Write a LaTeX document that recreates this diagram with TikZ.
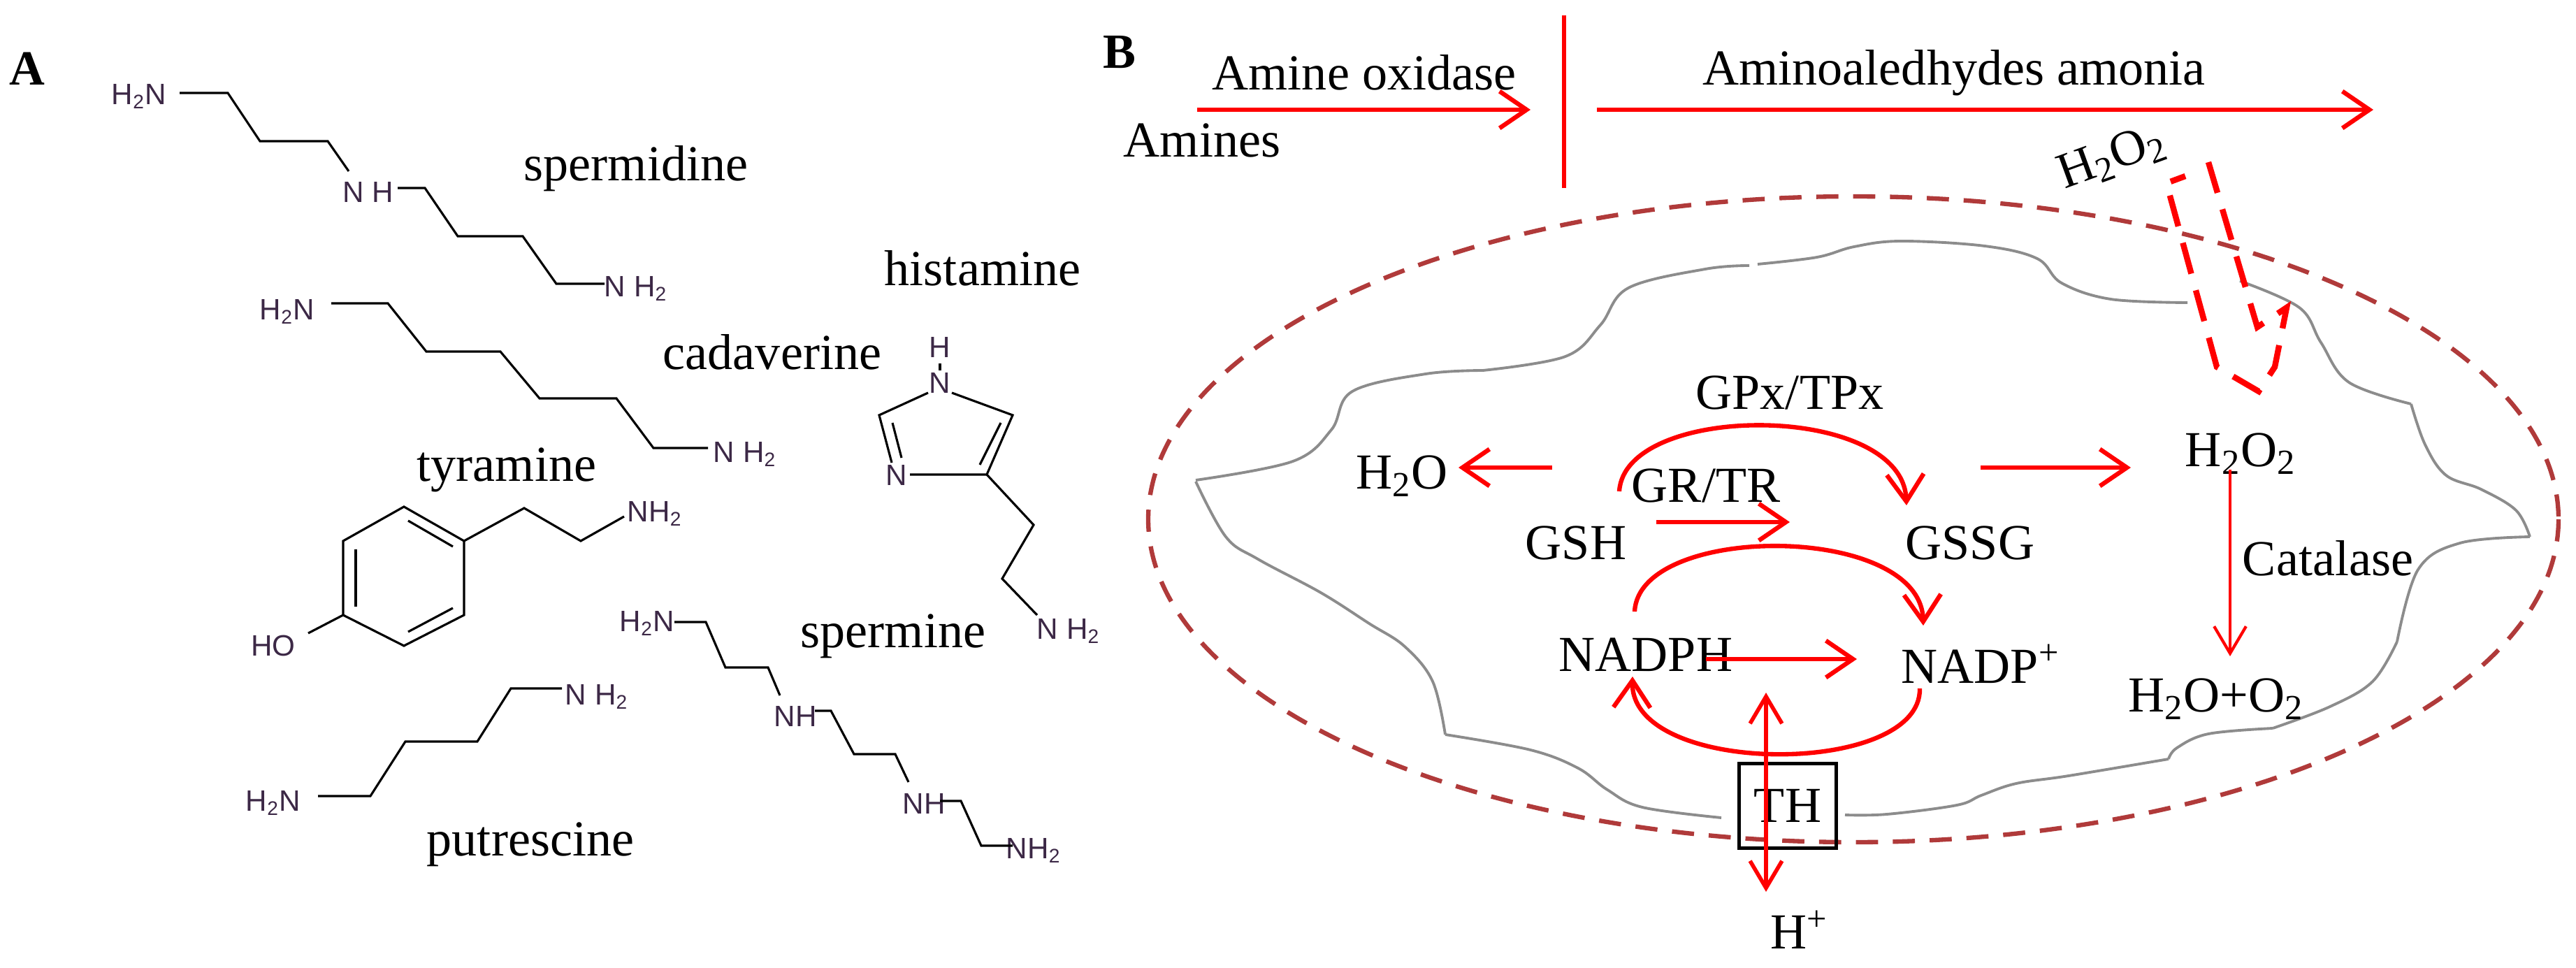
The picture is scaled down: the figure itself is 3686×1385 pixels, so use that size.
\documentclass[tikz,border=0pt]{standalone}
\usepackage{fontspec}
\setmainfont{Liberation Serif}
\newfontfamily\chemf{Liberation Sans}
\usetikzlibrary{arrows.meta}
\definecolor{memb}{RGB}{176,58,58}
\definecolor{chemlab}{RGB}{60,40,70}
\begin{document}
\begin{tikzpicture}[x=0.01cm,y=-0.01cm,
  lab/.style={font=\fontsize{20.5}{22}\selectfont,inner sep=0pt},
  chem/.style={font=\chemf\fontsize{12}{13}\selectfont,text=chemlab,inner sep=0pt},
  bond/.style={line width=0.9pt,black},
  rarr/.style={red,line width=1.8pt,-{Straight Barb[length=11pt,width=15pt,line width=1.8pt]}},
  rarrt/.style={red,line width=1.2pt,-{Straight Barb[length=11pt,width=13pt,line width=1.2pt]}},
  gmem/.style={gray!90,line width=1.1pt}]
\useasboundingbox (0,0) rectangle (3686,1385);
% ---------- Panel A ----------
\node[lab,font=\bfseries\fontsize{20}{22}\selectfont] (A) at (39,98) {A};
% spermidine
\node[chem] (sp1) at (199,138) {H\textsubscript{2}N};
\node[chem] (sp2) at (527,275) {N H};
\node[chem] (sp3) at (910,413) {N H\textsubscript{2}};
\draw[bond] (257,133)--(326,133)--(372,202)--(469,202)--(499,245);
\draw[bond] (569,269)--(608,269)--(655,338)--(748,338)--(796,406)--(865,406);
\node[lab] (spermidine) at (910,241) {spermidine};
% cadaverine
\node[chem] (ca1) at (411,446) {H\textsubscript{2}N};
\node[chem] (ca2) at (1066,650) {N H\textsubscript{2}};
\draw[bond] (474,434)--(555,434)--(610,503)--(716,503)--(772,570)--(882,570)--(935,641)--(1013,641);
\node[lab] (cadaverine) at (1105,504) {cadaverine};
% histamine
\node[lab] (histamine) at (1406,384) {histamine};
\node[chem] (hiH) at (1345,497) {H};
\node[chem] (hiN1) at (1345,548) {N};
\node[chem] (hiN3) at (1283,680) {N};
\node[chem] (hiNH2) at (1529,903) {N H\textsubscript{2}};
\draw[bond] (1345,520)--(1345,530);
\draw[bond] (1362,562)--(1449,594)--(1412,679)--(1302,679);
\draw[bond] (1328,562)--(1258,594)--(1276,662);
\draw[bond] (1277,605)--(1290,655);
\draw[bond] (1432,605)--(1402,665);
\draw[bond] (1412,679)--(1479,751)--(1434,828)--(1484,880);
% tyramine
\node[lab] (tyramine) at (725,672) {tyramine};
\draw[bond] (578,725)--(664,774)--(664,880)--(578,924)--(491,880)--(491,774)--cycle;
\draw[bond] (509,786)--(509,868);
\draw[bond] (584,745)--(648,782);
\draw[bond] (584,904)--(648,870);
\draw[bond] (664,774)--(750,727)--(831,774)--(893,739);
\node[chem] (tyN) at (937,735) {NH\textsubscript{2}};
\draw[bond] (491,880)--(441,906);
\node[chem] (tyO) at (391,924) {HO};
% spermine
\node[lab] (spermine) at (1278,910) {spermine};
\node[chem] (sm1) at (926,892) {H\textsubscript{2}N};
\node[chem] (sm2) at (1138,1025) {NH};
\node[chem] (sm3) at (1322,1150) {NH};
\node[chem] (sm4) at (1479,1217) {NH\textsubscript{2}};
\draw[bond] (965,890)--(1010,890)--(1038,955)--(1099,955)--(1116,995);
\draw[bond] (1166,1017)--(1189,1017)--(1222,1079)--(1281,1079)--(1300,1119);
\draw[bond] (1345,1146)--(1375,1146)--(1404,1210)--(1449,1210);
% putrescine
\node[chem] (pu1) at (391,1149) {H\textsubscript{2}N};
\node[chem] (pu2) at (854,997) {N H\textsubscript{2}};
\draw[bond] (455,1139)--(530,1139)--(580,1061)--(683,1061)--(731,985)--(804,985);
\node[lab] (putrescine) at (759,1208) {putrescine};
% ---------- Panel B ----------
\node[lab,font=\bfseries\fontsize{20}{22}\selectfont] (B) at (1602,75) {B};
\node[lab] (amox) at (1952,104) {Amine oxidase};
\node[lab] (amines) at (1720,201) {Amines};
\node[lab] (amald) at (2796,104) {Aminoaledhydes amonia};
\coordinate (a1s) at (1713,157); \coordinate (a1e) at (2190,157);
\coordinate (a2s) at (2285,157); \coordinate (a2e) at (3396,157);
\coordinate (vt) at (2238,22); \coordinate (vb) at (2238,269);
\draw[rarr] (a1s)--(a1e);
\draw[rarr] (a2s)--(a2e);
\draw[red,line width=1.8pt] (vt)--(vb);
% outer dashed ellipse
\draw[memb,line width=1.8pt,dash pattern=on 9pt off 6pt] (2652,743) ellipse [x radius=1009,y radius=462];
% inner membrane
\draw[gmem] plot[smooth,tension=0.6] coordinates {(1711,687) (1850,660) (1905,615) (1935,560) (2040,535) (2122,530)};
\draw[gmem] plot[smooth,tension=0.6] coordinates {(2122,530) (2240,510) (2290,465) (2330,412) (2440,385) (2503,380)};
\draw[gmem] plot[smooth,tension=0.6] coordinates {(2515,378) (2600,368) (2653,353) (2720,345) (2840,352) (2915,370) (2950,405) (3020,428) (3130,433)};
\draw[gmem] plot[smooth,tension=0.6] coordinates {(3205,402) (3290,440) (3321,490) (3361,547) (3450,578)};
\draw[gmem] plot[smooth,tension=0.6] coordinates {(3450,578) (3470,636) (3500,680) (3550,700) (3600,730) (3620,768)};
\draw[gmem] plot[smooth,tension=0.6] coordinates {(3620,768) (3520,777) (3460,815) (3430,918)};
\draw[gmem] plot[smooth,tension=0.6] coordinates {(3430,918) (3395,975) (3334,1011) (3252,1042)};
\draw[gmem] plot[smooth,tension=0.6] coordinates {(3252,1042) (3160,1050) (3115,1070) (3103,1086)};
\draw[gmem] plot[smooth,tension=0.6] coordinates {(3103,1086) (2960,1110) (2885,1121) (2835,1138) (2800,1152) (2700,1165) (2640,1166)};
\draw[gmem] plot[smooth,tension=0.6] coordinates {(2463,1170) (2350,1155) (2300,1130) (2258,1099) (2190,1073) (2068,1051)};
\draw[gmem] plot[smooth,tension=0.6] coordinates {(2068,1051) (2050,975) (2010,925) (1959,892) (1890,848) (1800,800) (1754,768) (1711,689)};
% H2O2 outside + dashed hollow arrow
\node[lab,rotate=20] (h2o2out) at (3022,226) {H\textsubscript{2}O\textsubscript{2}};
\draw[red,line width=2.4pt,dash pattern=on 13pt off 7pt,line join=miter]
  (3160,232)--(3230,468)--(3272,440)--(3255,525)--(3232,560)--(3172,525)--(3100,262)--(3127,252);
% texts in cell
\node[lab] (gpx) at (2561,562) {GPx/TPx};
\node[lab] (h2o) at (2006,681) {H\textsubscript{2}O};
\node[lab] (grtr) at (2441,695) {GR/TR};
\node[lab] (gsh) at (2255,777) {GSH};
\node[lab] (gssg) at (2819,777) {GSSG};
\node[lab] (nadph) at (2355,937) {NADPH};
\node[lab] (nadp) at (2834,950) {NADP\textsuperscript{+}};
\node[lab] (h2o2in) at (3206,649) {H\textsubscript{2}O\textsubscript{2}};
\node[lab] (catal) at (3331,799) {Catalase};
\node[lab] (h2oo2) at (3171,1000) {H\textsubscript{2}O+O\textsubscript{2}};
\node[draw,line width=1.3pt,minimum width=139*0.01cm,minimum height=121*0.01cm,inner sep=0pt,font=\fontsize{20.5}{22}\selectfont] (th) at (2558,1153) {TH};
\node[lab] (hplus) at (2575,1330) {H\textsuperscript{+}};
% arrows
\coordinate (w1) at (2221,669); \coordinate (w2) at (2087,669);
\draw[rarr] (w1)--(w2);
\coordinate (g1) at (2834,669); \coordinate (g2) at (3049,669);
\draw[rarr] (g1)--(g2);
\coordinate (s1) at (2370,747); \coordinate (s2) at (2561,747);
\draw[rarr] (s1)--(s2);
\coordinate (n1) at (2441,943); \coordinate (n2) at (2657,943);
\draw[rarr] (n1)--(n2);
\coordinate (c1s) at (2317,703); \coordinate (c1e) at (2728,723);
\draw[rarr] (c1s) .. controls (2325,575) and (2722,575) .. (c1e);
\coordinate (c2s) at (2339,875); \coordinate (c2e) at (2752,895);
\draw[rarr] (c2s) .. controls (2345,748) and (2748,748) .. (c2e);
\coordinate (c3s) at (2747,985); \coordinate (c3e) at (2336,968);
\draw[rarr] (c3s) .. controls (2750,1112) and (2333,1112) .. (c3e);
\coordinate (t1) at (2527,1276); \coordinate (t2) at (2527,991);
\draw[red,line width=1.6pt,{Straight Barb[length=11pt,width=13pt,line width=1.6pt]}-{Straight Barb[length=11pt,width=13pt,line width=1.6pt]}] (t1)--(t2);
\coordinate (k1) at (3191,672); \coordinate (k2) at (3191,939);
\draw[rarrt] (k1)--(k2);
\end{tikzpicture}
\end{document}
